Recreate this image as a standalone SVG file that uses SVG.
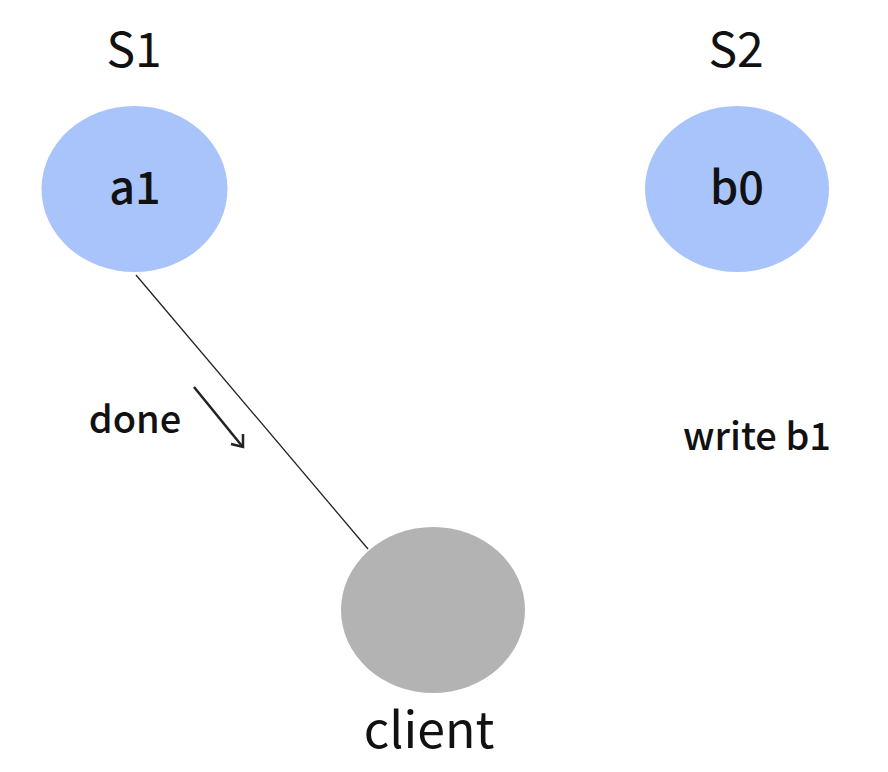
<svg xmlns="http://www.w3.org/2000/svg" width="888" height="772" viewBox="0 0 888 772">
<style>
text{font-family:"Noto Sans CJK SC","Source Sans Pro","Noto Sans",sans-serif;fill:#111;text-anchor:middle}
.srv{fill:#a9c4fb}
.cli{fill:#b3b3b3}
.title{font-size:48px}
.val{font-size:45px;font-weight:500}
.lbl{font-size:38px;font-weight:500}
</style>
<rect width="888" height="772" fill="#fff"/>
<g id="connectors">
<line x1="136" y1="275" x2="368" y2="549" stroke="#222" stroke-width="1.3"/>
<line x1="194" y1="387" x2="242" y2="446" stroke="#222" stroke-width="2.5"/>
<path d="M243,434 L243,447 L231,444" fill="none" stroke="#222" stroke-width="2.5"/>
</g>
<g id="s1">
<text class="title" x="134" y="67">S1</text>
<ellipse class="srv" cx="134.5" cy="189" rx="93" ry="83"/>
<text class="val" x="135" y="204">a1</text>
</g>
<g id="s2">
<text class="title" x="736" y="67">S2</text>
<ellipse class="srv" cx="737" cy="189" rx="92" ry="83"/>
<text class="val" x="737" y="204">b0</text>
</g>
<g id="client">
<ellipse class="cli" cx="433" cy="610" rx="92" ry="83"/>
<text x="429" y="748" style="font-size:50px">client</text>
</g>
<g id="labels">
<text class="lbl" x="135" y="433">done</text>
<text class="lbl" x="757" y="450">write b1</text>
</g>
</svg>
